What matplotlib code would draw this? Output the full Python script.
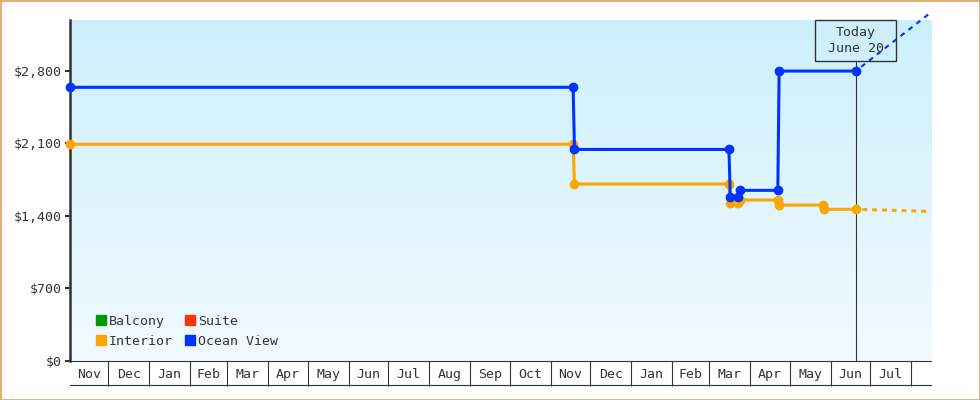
import datetime as dt
import numpy as np
import matplotlib
matplotlib.use('Agg')
import matplotlib.pyplot as plt
import matplotlib.dates as mdates
from matplotlib.lines import Line2D
from matplotlib.patches import Rectangle
from matplotlib.transforms import blended_transform_factory

# Datos
d = dt.date
x_inicio = d(2016, 11, 2)
x_fin = d(2018, 8, 16)
hoy = d(2018, 6, 20)

fechas_ocean = [d(2016, 11, 2), d(2017, 11, 18), d(2017, 11, 19), d(2018, 3, 16),
                d(2018, 3, 17), d(2018, 3, 23), d(2018, 3, 24), d(2018, 4, 22),
                d(2018, 4, 23), d(2018, 6, 20)]
precio_ocean = [2640, 2640, 2040, 2040, 1583, 1583, 1645, 1645, 2797, 2797]

fechas_interior = [d(2016, 11, 2), d(2017, 11, 18), d(2017, 11, 19), d(2018, 3, 16),
                   d(2018, 3, 17), d(2018, 3, 23), d(2018, 3, 24), d(2018, 4, 22),
                   d(2018, 4, 23), d(2018, 5, 26), d(2018, 5, 27), d(2018, 6, 20)]
precio_interior = [2090, 2090, 1706, 1706, 1520, 1520, 1552, 1552, 1503, 1503, 1462, 1462]

# proyeccion desde hoy hasta el final
proy_ocean = [2797, 3364]
proy_interior = [1462, 1442]

y_ticks = [0, 700, 1400, 2100, 2800]
y_max = 3290

meses = ['Nov', 'Dec', 'Jan', 'Feb', 'Mar', 'Apr', 'May', 'Jun', 'Jul', 'Aug', 'Sep',
         'Oct', 'Nov', 'Dec', 'Jan', 'Feb', 'Mar', 'Apr', 'May', 'Jun', 'Jul']

leyenda = ['Balcony', 'Interior', 'Suite', 'Ocean View']
colores_leyenda = ['#009900', '#ffa500', '#ff3300', '#0033ff']

azul = '#0033ff'
naranja = '#ffa500'
gris = '#333333'

plt.rcParams['font.family'] = 'DejaVu Sans Mono'
plt.rcParams['font.size'] = 9.5

fig = plt.figure(figsize=(9.8, 4.0), dpi=100)
grafico = fig.add_axes([70 / 980, 39.3 / 400, 861 / 980, 340.7 / 400])

# Fondo degradado
grad = np.linspace(0, 1, 256).reshape(-1, 1)
arriba = np.array([204, 239, 252]) / 255
abajo = np.array([241, 250, 255]) / 255
img = arriba + (abajo - arriba) * grad[:, :, None]
grafico.imshow(img, extent=[0, 1, 0, 1], transform=grafico.transAxes,
               aspect='auto', zorder=0)

# Series
grafico.plot(fechas_interior, precio_interior, color=naranja, lw=2.2,
             marker='o', markersize=6, zorder=3, clip_on=False)
grafico.plot(fechas_ocean, precio_ocean, color=azul, lw=2.2,
             marker='o', markersize=6, zorder=4, clip_on=False)
grafico.plot([hoy, x_fin], proy_interior, color=naranja, lw=2.2,
             linestyle=(1, (1.6, 1.6)), zorder=3)
grafico.plot([hoy, x_fin], proy_ocean, color=azul, lw=1.5,
             linestyle=(1.5, (2.4, 2.4)), zorder=4, clip_on=False)

# Linea de hoy
mezcla = blended_transform_factory(grafico.transData, grafico.transAxes)
grafico.plot([hoy, hoy], [0, 0.8805], color=gris, lw=0.8, transform=mezcla, zorder=2)
hoy_num = mdates.date2num(hoy)
grafico.add_patch(Rectangle((hoy_num - 30.5, 0.8805), 61, 0.1195, transform=mezcla,
                            fill=False, edgecolor=gris, lw=1, zorder=5, clip_on=False))
grafico.text(hoy, 0.94, 'Today\nJune 20', transform=mezcla, ha='center', va='center',
             color=gris, linespacing=1.3, zorder=6)

grafico.set_xlim(x_inicio, x_fin)
grafico.set_ylim(0, y_max)

# Eje Y
grafico.set_yticks(y_ticks)
grafico.set_yticklabels(['${:,}'.format(v) for v in y_ticks])
grafico.tick_params(axis='y', length=3.6, width=1.5, color=gris, pad=2, labelcolor=gris)

# Eje X: celdas por mes
limites = [d(2016 + (11 + i) // 12, (11 + i) % 12 + 1, 1) for i in range(21)]
bordes = [x_inicio] + limites + [x_fin]
centros = []
for a, b in zip(bordes[:-2], bordes[1:-1]):
    centros.append(mdates.date2num(a) + (mdates.date2num(b) - mdates.date2num(a)) / 2)
grafico.set_xticks(limites)
grafico.set_xticklabels([])
grafico.set_xticks(centros, minor=True)
grafico.set_xticklabels(meses, minor=True)
grafico.tick_params(axis='x', which='major', length=18, width=0.8, color=gris)
grafico.tick_params(axis='x', which='minor', length=0, pad=5, labelcolor=gris)
grafico.plot([0, 1], [-24.7 / 340.7] * 2, transform=grafico.transAxes,
             color=gris, lw=0.8, clip_on=False)

for lado in ['top', 'right']:
    grafico.spines[lado].set_visible(False)
grafico.spines['left'].set_linewidth(1.8)
grafico.spines['left'].set_color(gris)
grafico.spines['bottom'].set_linewidth(0.8)
grafico.spines['bottom'].set_color(gris)

# Leyenda
manejadores = [Line2D([], [], marker='s', linestyle='', markersize=7.5, color=c)
               for c in colores_leyenda]
grafico.legend(manejadores, leyenda, ncol=2, frameon=False, loc='lower left',
               bbox_to_anchor=(0.018, 0.011), handlelength=0.9, handletextpad=0.15,
               columnspacing=0.9, labelspacing=0.53, borderpad=0.2,
               labelcolor=gris)

# Borde de la figura
fig.patches.append(Rectangle((0, 0), 1, 1, transform=fig.transFigure, fill=False,
                             edgecolor='#e8aa6a', lw=2))

plt.savefig('out.png', dpi=100)
